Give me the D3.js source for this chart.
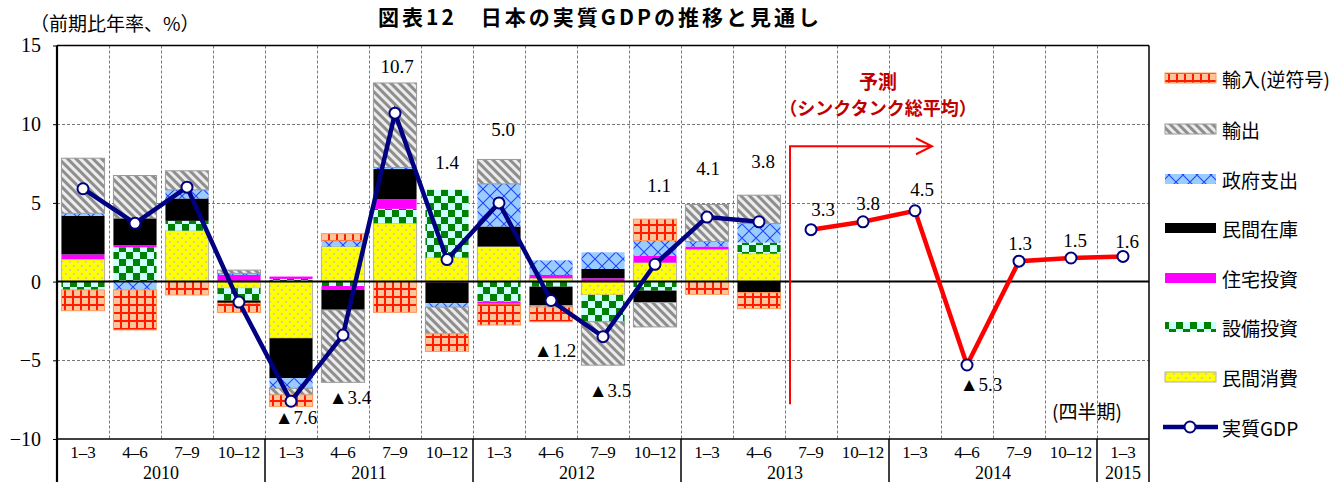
<!DOCTYPE html>
<html>
<head>
<meta charset="utf-8">
<script src="https://cdn.jsdelivr.net/npm/d3@7"></script>
<style>
  html, body { margin: 0; padding: 0; background: #fff; }
  svg { display: block; }
</style>
</head>
<body>
<svg id="chart" width="1344" height="482"></svg>
<script>
// ---- data -------------------------------------------------------------
const quarters = ["1–3","4–6","7–9","10–12","1–3","4–6","7–9","10–12",
                  "1–3","4–6","7–9","10–12","1–3","4–6","7–9","10–12",
                  "1–3","4–6","7–9","10–12","1–3"];
const years = ["2010","2011","2012","2013","2014","2015"];

// contributions to real GDP growth (annualised q/q, % pts), 2010 1-3 … 2013 4-6
const consumption = [1.43, 0.00, 3.24, -0.42, -3.60, 2.23, 3.71, 1.53, 2.23, 0.22, -0.85, 1.21, 2.06, 1.78];
const investment  = [-0.53, 2.18, 0.62, -0.78, 0.17, -0.28, 0.91, 4.30, -1.27, -0.32, -1.70, -0.57, 0.00, 0.70];
const housing     = [0.30, 0.13, 0.00, 0.42, 0.15, -0.25, 0.62, -0.05, -0.15, 0.20, 0.21, 0.42, 0.17, 0.00];
const inventory   = [2.44, 1.72, 1.42, -0.17, -2.54, -1.27, 1.91, -1.32, 1.27, -1.20, 0.59, -0.76, 0.00, -0.70];
const government  = [0.17, -0.53, 0.55, 0.10, -0.64, 0.36, 0.10, -0.25, 2.71, 0.93, 1.06, 0.98, 0.32, 1.21];
const exportsC    = [3.50, 2.71, 1.21, 0.21, -0.42, -4.60, 5.37, -1.70, 1.55, -0.10, -2.76, -1.55, 2.35, 1.80];
const importsC    = [-1.32, -2.54, -0.85, -0.59, -0.74, 0.45, -1.95, -1.12, -1.34, -0.93, 0.00, 1.36, -0.81, -1.02];

const gdpActual   = [5.9, 3.7, 6.0, -1.3, -7.6, -3.4, 10.7, 1.4, 5.0, -1.2, -3.5, 1.1, 4.1, 3.8];
const gdpForecast = [3.3, 3.8, 4.5, -5.3, 1.3, 1.5, 1.6];   // 2013 7-9 … 2015 1-3

const yTicks = [-10, -5, 0, 5, 10, 15];

// ---- layout ----------------------------------------------------------
const svg = d3.select("#chart");
const plot = { left: 57, right: 1149, top: 45.5, bottom: 439, axisBottom: 482 };

const x = d3.scaleBand()
  .domain(d3.range(quarters.length))
  .range([plot.left, plot.right])
  .paddingInner(0.17)
  .paddingOuter(0.085);
const step = x.step();
const cx = i => x(i) + x.bandwidth() / 2;

const y = d3.scaleLinear().domain([-10, 15]).range([plot.bottom, plot.top]);

const serif = "'Liberation Serif', 'DejaVu Serif', serif";
const jp = "'Noto Sans CJK JP', 'Noto Sans', sans-serif";

// ---- fill patterns ----------------------------------------------------
const defs = svg.append("defs");
function pattern(id, w, h, transform) {
  const p = defs.append("pattern").attr("id", id)
    .attr("patternUnits", "userSpaceOnUse").attr("width", w).attr("height", h);
  if (transform) p.attr("patternTransform", transform);
  return p;
}
let p = pattern("pImp", 8, 8);
p.append("rect").attr("width", 8).attr("height", 8).attr("fill", "#ffc59a");
p.append("path").attr("d", "M1,0V8M0,1H8").attr("stroke", "#ff1a00").attr("stroke-width", 2);

p = pattern("pExp", 6, 6, "rotate(-45)");
p.append("rect").attr("width", 6).attr("height", 6).attr("fill", "#ececec");
p.append("rect").attr("width", 3).attr("height", 6).attr("fill", "#8e8e8e");

p = pattern("pGov", 14, 14);
p.append("rect").attr("width", 14).attr("height", 14).attr("fill", "#99ccff");
p.append("path").attr("d", "M0,0L14,14M14,0L0,14").attr("stroke", "#2244ff")
  .attr("stroke-width", 1.1).attr("fill", "none");

p = pattern("pInv", 14, 14);
p.append("rect").attr("width", 14).attr("height", 14).attr("fill", "#ccffff");
p.append("rect").attr("width", 7).attr("height", 7).attr("fill", "#008000");
p.append("rect").attr("x", 7).attr("y", 7).attr("width", 7).attr("height", 7).attr("fill", "#008000");

p = pattern("pCon", 8, 8);
p.append("rect").attr("width", 8).attr("height", 8).attr("fill", "#ffff00");
p.append("circle").attr("cx", 2).attr("cy", 2).attr("r", 1.1).attr("fill", "#c8c8a8");
p.append("circle").attr("cx", 6).attr("cy", 6).attr("r", 1.1).attr("fill", "#c8c8a8");

// stacking order (bottom → top) with display names and fills
const series = [
  { key: "consumption", name: "民間消費",     values: consumption, fill: "url(#pCon)", stroke: "#b4b4a0" },
  { key: "investment",  name: "設備投資",     values: investment,  fill: "url(#pInv)", stroke: "none" },
  { key: "housing",     name: "住宅投資",     values: housing,     fill: "#ff00ff",    stroke: "none" },
  { key: "inventory",   name: "民間在庫",     values: inventory,   fill: "#000000",    stroke: "none" },
  { key: "government",  name: "政府支出",     values: government,  fill: "url(#pGov)", stroke: "none" },
  { key: "exports",     name: "輸出",         values: exportsC,    fill: "url(#pExp)", stroke: "#9a9a9a" },
  { key: "imports",     name: "輸入(逆符号)", values: importsC,    fill: "url(#pImp)", stroke: "#ff9a5a" }
];

const rows = gdpActual.map((g, i) => {
  const r = { i };
  series.forEach(s => { r[s.key] = s.values[i]; });
  return r;
});
const stacked = d3.stack()
  .keys(series.map(s => s.key))
  .offset(d3.stackOffsetDiverging)(rows);

// ---- grid -------------------------------------------------------------
const grid = svg.append("g").attr("stroke", "#777").attr("stroke-width", 1)
  .attr("stroke-dasharray", "3,2");
grid.selectAll("line.h").data([10, 5, -5]).join("line")
  .attr("x1", plot.left).attr("x2", plot.right)
  .attr("y1", d => Math.round(y(d)) + 0.5).attr("y2", d => Math.round(y(d)) + 0.5);
grid.selectAll("line.v").data(d3.range(1, quarters.length)).join("line")
  .attr("x1", i => Math.round(cx(i) - step / 2) + 0.5)
  .attr("x2", i => Math.round(cx(i) - step / 2) + 0.5)
  .attr("y1", plot.top).attr("y2", plot.bottom);

// ---- bars -------------------------------------------------------------
svg.append("g").selectAll("g").data(stacked).join("g")
  .each(function (layer, k) {
    const s = series[k];
    d3.select(this).selectAll("rect")
      .data(layer.filter(d => Math.abs(d[1] - d[0]) > 1e-9))
      .join("rect")
      .attr("x", d => x(d.data.i))
      .attr("width", x.bandwidth())
      .attr("y", d => y(Math.max(d[0], d[1])))
      .attr("height", d => Math.abs(y(d[0]) - y(d[1])))
      .attr("fill", s.fill)
      .attr("stroke", s.stroke)
      .attr("stroke-width", 1);
  });

// ---- frame & axes ------------------------------------------------------
const frame = svg.append("g").attr("stroke", "#000").attr("fill", "none");
frame.append("line").attr("x1", plot.left).attr("x2", plot.right)
  .attr("y1", plot.top).attr("y2", plot.top).attr("stroke-width", 1.5);
frame.append("line").attr("x1", plot.left).attr("x2", plot.right)
  .attr("y1", plot.bottom).attr("y2", plot.bottom).attr("stroke-width", 1.5);
frame.append("line").attr("x1", plot.left).attr("x2", plot.right)
  .attr("y1", y(0)).attr("y2", y(0)).attr("stroke-width", 2);
frame.append("line").attr("x1", plot.left).attr("x2", plot.left)
  .attr("y1", plot.top).attr("y2", plot.axisBottom).attr("stroke-width", 2.2);
frame.append("line").attr("x1", plot.right).attr("x2", plot.right)
  .attr("y1", plot.top).attr("y2", plot.axisBottom).attr("stroke-width", 1.5);

// year separators below the plot
const yearStart = years.map((yr, k) => k * 4);
frame.selectAll("line.yr").data(yearStart.slice(1)).join("line")
  .attr("x1", i => cx(i) - step / 2).attr("x2", i => cx(i) - step / 2)
  .attr("y1", plot.bottom).attr("y2", plot.axisBottom).attr("stroke-width", 1.5);

// y axis
const yAxis = svg.append("g").attr("transform", `translate(${plot.left},0)`)
  .call(d3.axisLeft(y).tickValues(yTicks).tickSize(4).tickPadding(12)
    .tickFormat(d => d < 0 ? "−" + Math.abs(d) : String(d)));
yAxis.select(".domain").remove();
yAxis.selectAll("text").attr("font-family", serif).attr("font-size", 20).attr("fill", "#000");

// quarter and year labels
svg.append("g").selectAll("text").data(quarters).join("text")
  .attr("x", (q, i) => cx(i)).attr("y", 452)
  .attr("text-anchor", "middle").attr("dominant-baseline", "central")
  .attr("font-family", serif).attr("font-size", 17).text(q => q);
svg.append("g").selectAll("text").data(years).join("text")
  .attr("x", (yr, k) => {
    const a = yearStart[k], b = Math.min(a + 3, quarters.length - 1);
    return (cx(a) + cx(b)) / 2;
  })
  .attr("y", 473).attr("text-anchor", "middle").attr("dominant-baseline", "central")
  .attr("font-family", serif).attr("font-size", 18).text(d => d);

// ---- forecast marker ---------------------------------------------------
const fStart = gdpActual.length;
const arrowX = cx(fStart) - step / 2 + 5;
const arrowTop = y(8.6), arrowBottom = y(-7.8), arrowEnd = cx(fStart + 2) + 17;
svg.append("path")
  .attr("d", `M${arrowX},${arrowBottom}V${arrowTop}H${arrowEnd}` +
             `M${arrowEnd - 16},${arrowTop - 8}L${arrowEnd},${arrowTop}L${arrowEnd - 16},${arrowTop + 8}`)
  .attr("fill", "none").attr("stroke", "#ff0000").attr("stroke-width", 2);
svg.append("text").attr("x", 878).attr("y", 80)
  .attr("text-anchor", "middle").attr("dominant-baseline", "central")
  .attr("font-family", jp).attr("font-weight", "bold").attr("font-size", 19)
  .attr("fill", "#c00000").text("予測");
svg.append("text").attr("x", 878).attr("y", 107)
  .attr("text-anchor", "middle").attr("dominant-baseline", "central")
  .attr("font-family", jp).attr("font-weight", "bold").attr("font-size", 18)
  .attr("fill", "#c00000").text("（シンクタンク総平均）");

// ---- GDP lines ---------------------------------------------------------
const navy = "#000080";
const line = d3.line().x(d => cx(d.i)).y(d => y(d.v));
const actualPts = gdpActual.map((v, i) => ({ i, v }));
const forecastPts = gdpForecast.map((v, k) => ({ i: fStart + k, v }));

svg.append("path").datum(actualPts).attr("d", line)
  .attr("fill", "none").attr("stroke", navy).attr("stroke-width", 4.5)
  .attr("stroke-linejoin", "miter");
svg.append("path").datum(forecastPts).attr("d", line)
  .attr("fill", "none").attr("stroke", "#ff0000").attr("stroke-width", 4.5)
  .attr("stroke-linejoin", "miter");
svg.append("g").selectAll("circle").data(actualPts.concat(forecastPts)).join("circle")
  .attr("cx", d => cx(d.i)).attr("cy", d => y(d.v)).attr("r", 5.5)
  .attr("fill", "#fff").attr("stroke", navy).attr("stroke-width", 2);

// value labels (offsets from each point)
const labelPlacement = {
  4: [5, 16], 5: [7, 62], 6: [2, -47], 7: [0, -97], 8: [4, -73], 9: [4, 50],
  10: [7, 54], 11: [4, -79], 12: [1, -49], 13: [4, -60],
  14: [12, -20], 15: [5, -18], 16: [7, -21], 17: [14, 19], 18: [1, -18], 19: [4, -17], 20: [4, -15]
};
const fmt = v => (v < 0 ? "▲" : "") + Math.abs(v).toFixed(1);
svg.append("g").selectAll("text")
  .data(actualPts.concat(forecastPts).filter(d => labelPlacement[d.i]))
  .join("text")
  .attr("x", d => cx(d.i) + labelPlacement[d.i][0])
  .attr("y", d => y(d.v) + labelPlacement[d.i][1])
  .attr("text-anchor", "middle").attr("dominant-baseline", "central")
  .attr("font-family", serif).attr("font-size", 19).attr("fill", "#000")
  .text(d => fmt(d.v));

// ---- titles ------------------------------------------------------------
svg.append("text").attr("x", 600).attr("y", 25).attr("text-anchor", "middle")
  .attr("font-family", jp).attr("font-weight", "bold").attr("font-size", 21)
  .attr("letter-spacing", 3)
  .text("図表12　日本の実質GDPの推移と見通し");
svg.append("text").attr("x", 30).attr("y", 22).attr("dominant-baseline", "central")
  .attr("font-family", jp).attr("font-size", 19).text("（前期比年率、%）");
svg.append("text").attr("x", 1087).attr("y", 410).attr("text-anchor", "middle")
  .attr("dominant-baseline", "central")
  .attr("font-family", jp).attr("font-size", 19).text("(四半期)");

// ---- legend ------------------------------------------------------------
const legendItems = series.slice().reverse();
const legendY = [78, 129, 179, 228, 278, 327, 377];
const legend = svg.append("g");
legendItems.forEach((s, k) => {
  legend.append("rect").attr("x", 1165).attr("y", legendY[k] - 5).attr("width", 51).attr("height", 10)
    .attr("fill", s.fill).attr("stroke", s.stroke === "none" ? "none" : s.stroke);
  legend.append("text").attr("x", 1222).attr("y", legendY[k])
    .attr("dominant-baseline", "central").attr("font-family", jp).attr("font-size", 19)
    .text(s.name);
});
const gy = 427;
legend.append("line").attr("x1", 1163).attr("x2", 1218).attr("y1", gy).attr("y2", gy)
  .attr("stroke", navy).attr("stroke-width", 4.5);
legend.append("circle").attr("cx", 1190).attr("cy", gy).attr("r", 5.5)
  .attr("fill", "#fff").attr("stroke", navy).attr("stroke-width", 2);
legend.append("text").attr("x", 1222).attr("y", gy)
  .attr("dominant-baseline", "central").attr("font-family", jp).attr("font-size", 19)
  .text("実質GDP");
</script>
</body>
</html>
